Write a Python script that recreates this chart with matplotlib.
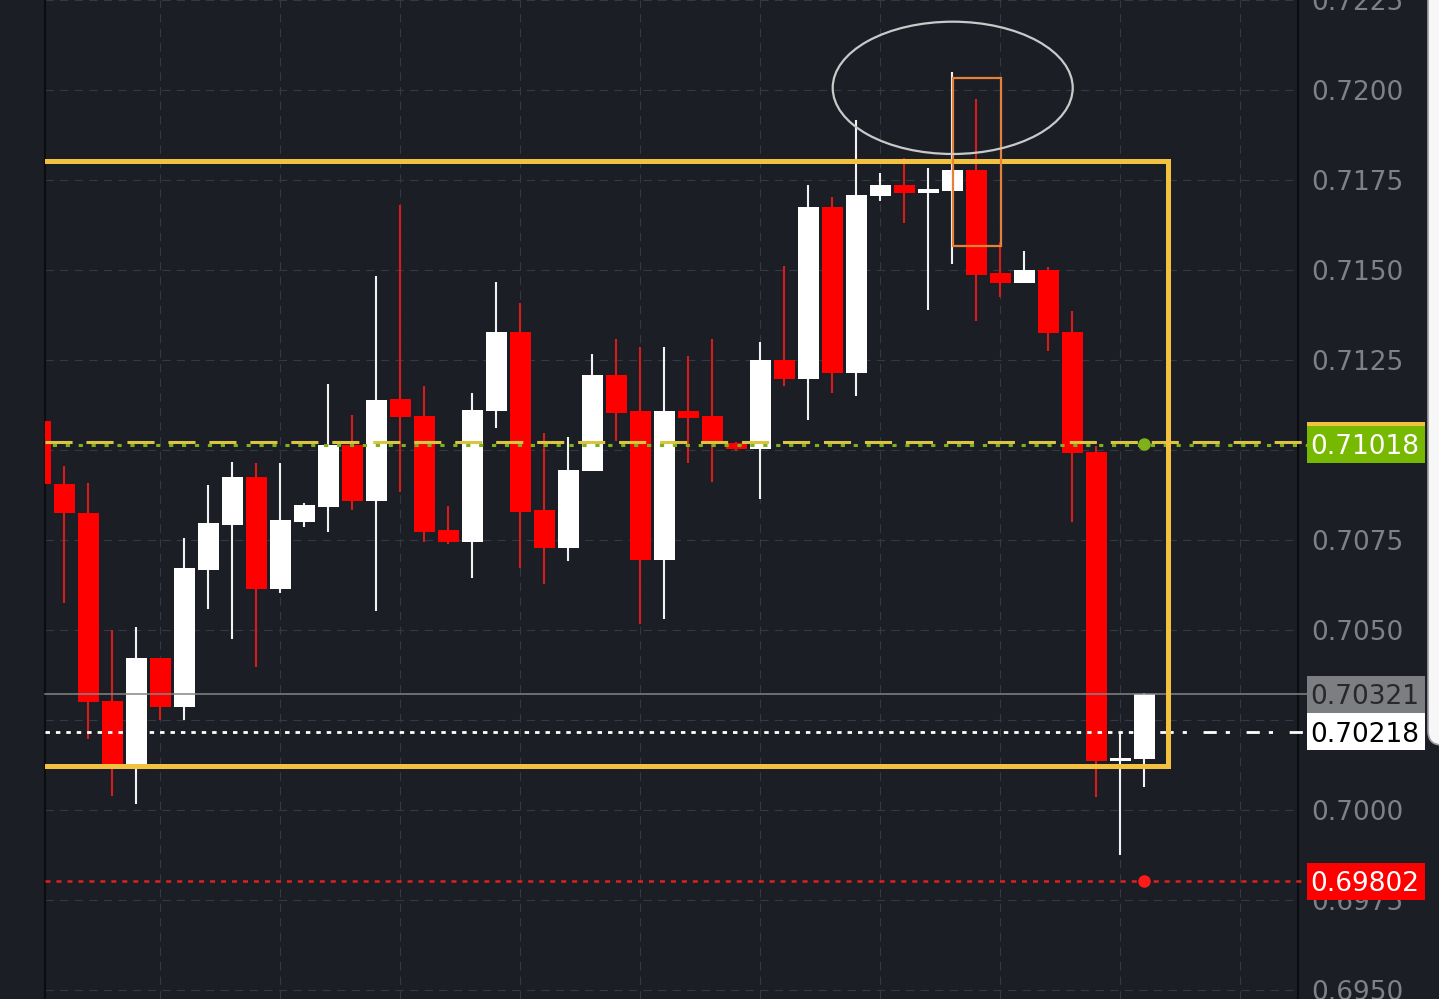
import matplotlib
matplotlib.use("Agg")
import matplotlib.pyplot as plt
import matplotlib.patches as mpatches
from matplotlib.transforms import blended_transform_factory
import numpy as np

plt.rcParams['font.family'] = ['DejaVu Sans']
plt.rcParams['lines.scale_dashes'] = False

# ---------------- data ----------------
opens = [0.71081, 0.70906, 0.70824, 0.70303, 0.70118, 0.70421, 0.70285, 0.70667,
         0.70793, 0.70925, 0.70613, 0.70801, 0.70842, 0.71013, 0.70859, 0.71141,
         0.71094, 0.70779, 0.70745, 0.71107, 0.71329, 0.70832, 0.70729, 0.70941,
         0.71207, 0.71107, 0.70694, 0.71107, 0.71095, 0.71019, 0.71004, 0.71249,
         0.71196, 0.71674, 0.71213, 0.71705, 0.71737, 0.71713, 0.71720, 0.71778,
         0.71491, 0.71463, 0.71500, 0.71327, 0.70994, 0.70136, 0.70141]
highs = [0.71100, 0.70956, 0.70909, 0.70500, 0.70508, 0.70421, 0.70755, 0.70904,
         0.70967, 0.70965, 0.70965, 0.70852, 0.71184, 0.71096, 0.71484, 0.71681,
         0.71178, 0.70844, 0.71157, 0.71466, 0.71407, 0.71048, 0.71036, 0.71266,
         0.71307, 0.71286, 0.71286, 0.71261, 0.71307, 0.71022, 0.71300, 0.71512,
         0.71737, 0.71704, 0.71918, 0.71769, 0.71810, 0.71783, 0.72049, 0.71975,
         0.71577, 0.71554, 0.71507, 0.71386, 0.71010, 0.70218, 0.70326]
lows = [0.70890, 0.70575, 0.70197, 0.70038, 0.70018, 0.70250, 0.70250, 0.70559,
        0.70475, 0.70396, 0.70604, 0.70785, 0.70771, 0.70833, 0.70554, 0.70884,
        0.70745, 0.70740, 0.70645, 0.71062, 0.70673, 0.70629, 0.70692, 0.70941,
        0.71025, 0.70516, 0.70531, 0.70965, 0.70912, 0.70998, 0.70863, 0.71179,
        0.71083, 0.71157, 0.71149, 0.71691, 0.71630, 0.71389, 0.71517, 0.71359,
        0.71426, 0.71463, 0.71274, 0.70800, 0.70035, 0.69876, 0.70065]
closes = [0.70906, 0.70824, 0.70300, 0.70118, 0.70421, 0.70285, 0.70672, 0.70797,
          0.70925, 0.70613, 0.70805, 0.70846, 0.71013, 0.70859, 0.71138, 0.71093,
          0.70773, 0.70745, 0.71111, 0.71329, 0.70828, 0.70729, 0.70944, 0.71207,
          0.71102, 0.70694, 0.71107, 0.71090, 0.71016, 0.71002, 0.71249, 0.71196,
          0.71674, 0.71213, 0.71708, 0.71737, 0.71713, 0.71724, 0.71778, 0.71487,
          0.71463, 0.71500, 0.71324, 0.70992, 0.70136, 0.70144, 0.70321]

tick_values = [0.6950, 0.6975, 0.7000, 0.7025, 0.7050, 0.7075, 0.7100, 0.7125,
               0.7150, 0.7175, 0.7200, 0.7225]
tick_labels = ["0.6950", "0.6975", "0.7000", "0.7025", "0.7050", "0.7075", "0.7100",
               "0.7125", "0.7150", "0.7175", "0.7200", "0.7225"]

level_green = 0.71018
level_gray = 0.70321
level_white = 0.70218
level_red = 0.69802

range_box = (0.70122, 0.71803)   # bottom, top of yellow range
range_box_right = 47.0
ellipse_center = (38.03, 0.72006)
ellipse_size = (10.0, 0.003675)
orange_box = (38.04, 40.06, 0.71567, 0.72034)  # x0, x1, y0, y1
dot_index = 46

# ---------------- style ----------------
BG = '#1b1e25'
GRID = '#343a45'
TICK = '#7e8188'
RED = '#ff0000'
REDWICK = '#d81c1c'
WHITE = '#ffffff'
GOLD = '#f2c140'

W, H = 1439, 999
fig = plt.figure(figsize=(W / 100, H / 100), dpi=100, facecolor=BG)
ax = fig.add_axes([45 / W, 0, (1298 - 45) / W, 1])
ax.set_facecolor(BG)

n = len(opens)
x = np.arange(n)
o = np.array(opens); c = np.array(closes); hi = np.array(highs); lo = np.array(lows)
up = c > o
body_col = np.where(up, WHITE, RED)
wick_col = np.where(up, '#f2f2f2', REDWICK)

ax.vlines(x, lo, hi, colors=wick_col, linewidth=1.5, zorder=3)
ax.bar(x, np.abs(c - o), bottom=np.minimum(o, c), width=0.875, color=body_col,
       linewidth=0, zorder=4)

ax.set_xlim((45 - 40) / 24, (1298 - 40) / 24)
ax.set_ylim(0.7200 - 909 / 36000, 0.7225)

# grid
ax.set_xticks(np.arange(5, 53, 5))
ax.set_xticklabels([])
ax.tick_params(axis='x', length=0)
ax.set_yticks(tick_values)
ax.set_yticklabels(tick_labels)
ax.yaxis.tick_right()
ax.tick_params(axis='y', length=0, pad=9.2, labelsize=19, labelcolor=TICK)
ax.grid(True, color=GRID, linewidth=0.8, linestyle=(0, (6, 4.5)), zorder=0)
ax.set_axisbelow(True)
for s in ['top', 'bottom']:
    ax.spines[s].set_visible(False)
for s in ['left', 'right']:
    ax.spines[s].set_color('#0b0d11')
    ax.spines[s].set_linewidth(1.6)

bt = blended_transform_factory(ax.transAxes, ax.transData)
x_conn = (1307 - 45) / 1253

# horizontal level lines
ax.plot([0, x_conn], [level_gray] * 2, color='#858585', lw=1.1, transform=bt,
        clip_on=False, zorder=6)
ax.plot([0, (1160 - 45) / 1253], [level_white] * 2, color=WHITE, lw=2.0,
        linestyle=(0, (3.2, 4.3)), transform=bt, clip_on=False, zorder=6)
ax.plot([(1160 - 45) / 1253, x_conn], [level_white] * 2, color=WHITE, lw=2.0,
        linestyle=(0, (9.5, 6.5, 3, 12)), transform=bt, clip_on=False, zorder=6)
ax.plot([0, x_conn], [level_green + 0.00003] * 2, color='#d9c443', lw=2.2,
        linestyle=(0, (19.5, 10)), transform=bt, clip_on=False, zorder=6)
ax.plot([0, x_conn], [level_green - 0.00003] * 2, color='#7fb21a', lw=2.2,
        linestyle=(4, (3, 6.3)), transform=bt, clip_on=False, zorder=6)
ax.plot([0, x_conn], [level_red] * 2, color='#e02020', lw=1.8,
        linestyle=(0, (3.6, 4.3)), transform=bt, clip_on=False, zorder=6)
ax.plot([dot_index], [level_green], 'o', color='#7fb21a', ms=8, zorder=7)
ax.plot([dot_index], [level_red], 'o', color='#ff1a1a', ms=8, zorder=7)

# yellow range rectangle
ax.add_patch(mpatches.Rectangle((-2, range_box[0]), range_box_right + 2,
                                range_box[1] - range_box[0], fill=False,
                                edgecolor=GOLD, lw=3.6, zorder=8))
# orange box
ax.add_patch(mpatches.Rectangle((orange_box[0], orange_box[2]),
                                orange_box[1] - orange_box[0],
                                orange_box[3] - orange_box[2], fill=False,
                                edgecolor='#e5823a', lw=1.6, zorder=8))
# ellipse
ax.add_patch(mpatches.Ellipse(ellipse_center, ellipse_size[0], ellipse_size[1],
                              fill=False, edgecolor='#c9c9c9', lw=1.6, zorder=8))

# price label boxes
bx0 = (1307 - 45) / 1253
bw = (1425 - 1307) / 1253
bh = 37 / 36000
tx = (1310 - 45) / 1253


def label(price, face, tcol, text, dy=0.0):
    ax.add_patch(mpatches.Rectangle((bx0, price - bh / 2 + dy), bw, bh,
                                    facecolor=face, edgecolor='none',
                                    transform=bt, clip_on=False, zorder=20))
    if text:
        ax.text(tx, price, text, color=tcol, fontsize=19, va='center_baseline',
                ha='left', transform=bt, clip_on=False, zorder=21)


label(level_green, GOLD, None, None, dy=3 / 36000)
label(level_green, '#76b900', WHITE, "0.71018", dy=-0.5 / 36000)
label(level_gray, '#7c7e82', '#26282c', "0.70321")
label(level_white, WHITE, '#000000', "0.70218")
label(level_red, '#ff0000', WHITE, "0.69802")

# right-side panel edge
panel = mpatches.FancyBboxPatch((1428, 999 - 745), 40, 800,
                                boxstyle=mpatches.BoxStyle("Round", pad=0, rounding_size=14),
                                facecolor='#f7f7f7', edgecolor='#a0a0a0', lw=1.2,
                                transform=None, zorder=30)
fig.add_artist(panel)

fig.savefig("out.png", dpi=100, facecolor=BG)
